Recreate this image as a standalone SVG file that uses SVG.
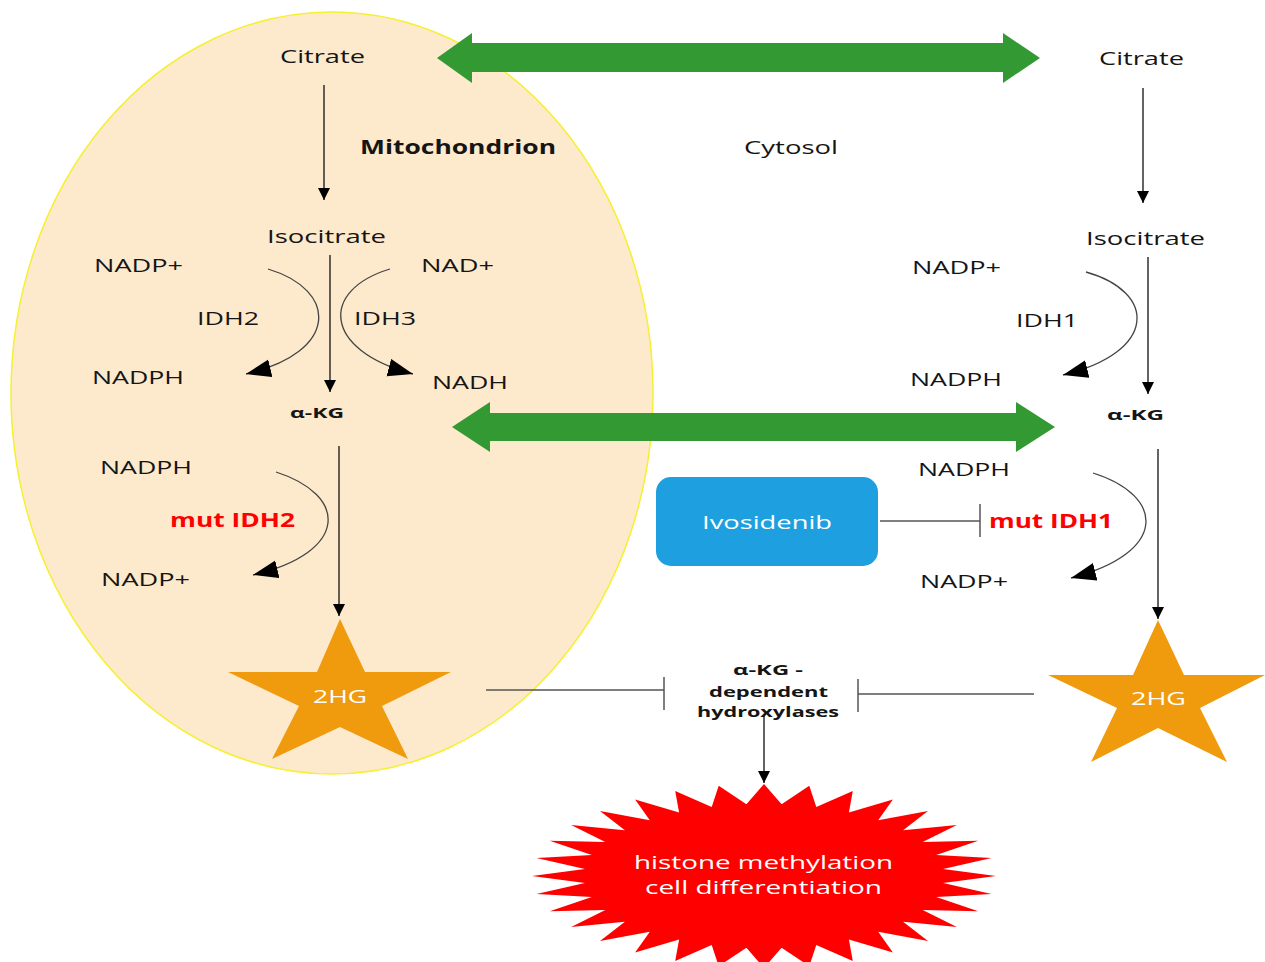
<svg xmlns="http://www.w3.org/2000/svg" width="1265" height="962" viewBox="0 0 1265 962">
<style>
text{font-family:"Open Sans","Liberation Sans",sans-serif;font-size:19px;fill:#151515}
.b{font-weight:bold}
.sm{font-size:15px;font-weight:bold}
.red{fill:#ff0000;font-weight:bold}
.w{fill:#ffffff}
.ln{stroke:#222;stroke-width:1.4;fill:none}
.cv{stroke:#444;stroke-width:1.3;fill:none}
.inh{stroke:#555;stroke-width:1.5;fill:none}
.green{fill:#339933}
.star{fill:#f09a0e}
</style>
<defs>
<marker id="sa" markerUnits="userSpaceOnUse" markerWidth="14" markerHeight="12" refX="12" refY="6" orient="auto"><path d="M0,0 L12,6 L0,12 z" fill="#000"/></marker>
<marker id="la" markerUnits="userSpaceOnUse" markerWidth="26" markerHeight="20" refX="25" refY="9" orient="auto"><path d="M0,0 L25,9 L0,18 z" fill="#000"/></marker>
</defs>
<rect width="1265" height="962" fill="#ffffff"/>
<g id="mitochondrion">
<ellipse cx="332" cy="393" rx="321" ry="381" fill="#fde9cc" stroke="#f5f032" stroke-width="1.5"/>
<text class="b" x="360" y="154" textLength="196" lengthAdjust="spacingAndGlyphs">Mitochondrion</text>
</g>
<g id="cytosol-label"><text x="744" y="154" textLength="94" lengthAdjust="spacingAndGlyphs">Cytosol</text></g>
<g id="connectors">
<path class="green" d="M437,58 L472,33 L472,43 L1003,43 L1003,33 L1040,58 L1003,83 L1003,72 L472,72 L472,83 z"/>
<path class="green" d="M452,427 L490,402 L490,413 L1016,413 L1016,402 L1055,427 L1016,452 L1016,441 L490,441 L490,452 z"/>
<line class="ln" x1="324" y1="85" x2="324" y2="200" marker-end="url(#sa)"/>
<line class="ln" x1="330" y1="255" x2="330" y2="392" marker-end="url(#sa)"/>
<line class="ln" x1="1143" y1="88" x2="1143" y2="203" marker-end="url(#sa)"/>
<line class="ln" x1="1148" y1="257" x2="1148" y2="394" marker-end="url(#sa)"/>
<line class="ln" x1="339" y1="446" x2="339" y2="616" marker-end="url(#sa)"/>
<line class="ln" x1="1158" y1="449" x2="1158" y2="619" marker-end="url(#sa)"/>
<line class="ln" x1="764" y1="715" x2="764" y2="783" marker-end="url(#sa)"/>
<path class="cv" d="M268,269 C338,290 340,352 246,374" marker-end="url(#la)"/>
<path class="cv" d="M390,269 C320,290 322,350 413,374" marker-end="url(#la)"/>
<path class="cv" d="M1086,272 C1157,292 1158,352 1063,375" marker-end="url(#la)"/>
<path class="cv" d="M276,472 C348,495 350,552 253,575" marker-end="url(#la)"/>
<path class="cv" d="M1093,473 C1166,496 1168,553 1071,578" marker-end="url(#la)"/>
<path class="inh" d="M880,521 L980,521 M980,504 L980,537"/>
<path class="inh" d="M486,690 L664,690 M664,677 L664,710"/>
<path class="inh" d="M1034,694 L858,694 M858,679 L858,712"/>
</g>
<g id="citrate-mito"><text x="280" y="63" textLength="85" lengthAdjust="spacingAndGlyphs">Citrate</text></g>
<g id="citrate-cyto"><text x="1099" y="65" textLength="85" lengthAdjust="spacingAndGlyphs">Citrate</text></g>
<g id="isocitrate-mito"><text x="267" y="243" textLength="119" lengthAdjust="spacingAndGlyphs">Isocitrate</text></g>
<g id="isocitrate-cyto"><text x="1086" y="245" textLength="119" lengthAdjust="spacingAndGlyphs">Isocitrate</text></g>
<g id="idh2">
<text x="94" y="272" textLength="89" lengthAdjust="spacingAndGlyphs">NADP+</text>
<text x="197" y="325" textLength="62" lengthAdjust="spacingAndGlyphs">IDH2</text>
<text x="92" y="384" textLength="92" lengthAdjust="spacingAndGlyphs">NADPH</text>
</g>
<g id="idh3">
<text x="421" y="272" textLength="73" lengthAdjust="spacingAndGlyphs">NAD+</text>
<text x="354" y="325" textLength="62" lengthAdjust="spacingAndGlyphs">IDH3</text>
<text x="432" y="389" textLength="76" lengthAdjust="spacingAndGlyphs">NADH</text>
</g>
<g id="akg-mito"><text class="sm" x="290" y="418" textLength="54" lengthAdjust="spacingAndGlyphs">α-KG</text></g>
<g id="mut-idh2">
<text x="100" y="474" textLength="92" lengthAdjust="spacingAndGlyphs">NADPH</text>
<text class="red" x="170" y="527" textLength="125" lengthAdjust="spacingAndGlyphs">mut IDH2</text>
<text x="101" y="586" textLength="89" lengthAdjust="spacingAndGlyphs">NADP+</text>
</g>
<g id="hg2-mito">
<polygon class="star" points="340,619 365,672 451,672 382,706 408,759 340,727 272,759 299,706 228,672 317,672"/>
<text class="w" x="313" y="703" textLength="54" lengthAdjust="spacingAndGlyphs">2HG</text>
</g>
<g id="idh1">
<text x="912" y="274" textLength="89" lengthAdjust="spacingAndGlyphs">NADP+</text>
<text x="1016" y="327" textLength="62" lengthAdjust="spacingAndGlyphs">IDH1</text>
<text x="910" y="386" textLength="92" lengthAdjust="spacingAndGlyphs">NADPH</text>
</g>
<g id="akg-cyto"><text class="sm" x="1107" y="420" textLength="57" lengthAdjust="spacingAndGlyphs">α-KG</text></g>
<g id="mut-idh1">
<text x="918" y="476" textLength="92" lengthAdjust="spacingAndGlyphs">NADPH</text>
<text class="red" x="989" y="528" textLength="124" lengthAdjust="spacingAndGlyphs">mut IDH1</text>
<text x="920" y="588" textLength="88" lengthAdjust="spacingAndGlyphs">NADP+</text>
</g>
<g id="ivosidenib">
<rect x="656" y="477" width="222" height="89" rx="15" fill="#1ea0e0"/>
<text class="w" x="702" y="529" textLength="130" lengthAdjust="spacingAndGlyphs">Ivosidenib</text>
</g>
<g id="hg2-cyto">
<polygon class="star" points="1158,620 1184,675 1265,675 1200,708 1227,762 1158,728 1091,762 1117,708 1048,675 1133,675"/>
<text class="w" x="1131" y="705" textLength="55" lengthAdjust="spacingAndGlyphs">2HG</text>
</g>
<g id="hydroxylases">
<text class="sm" x="733" y="675" textLength="70" lengthAdjust="spacingAndGlyphs">α-KG -</text>
<text class="sm" x="709" y="697" textLength="119" lengthAdjust="spacingAndGlyphs">dependent</text>
<text class="sm" x="697" y="717" textLength="142" lengthAdjust="spacingAndGlyphs">hydroxylases</text>
</g>
<g id="outcome">
<polygon fill="#ff0000" points="996,876 943.1,883.1 991.5,893.9 936.2,896.9 978.3,911.2 922.7,909.9 956.9,927.1 903.1,921.7 928,941.1 878.2,931.7 892.9,952.5 848.9,939.5 852.8,961 816.3,944.9 809.3,966.2 781.6,947.7 764,968 746.4,947.7 718.7,966.2 711.7,944.9 675.2,961 679.1,939.5 635.1,952.5 649.8,931.7 600,941.1 624.9,921.7 571.1,927.1 605.3,909.9 549.7,911.2 591.8,896.9 536.5,893.9 584.9,883.1 532,876 584.9,868.9 536.5,858.1 591.8,855.1 549.7,840.8 605.3,842.1 571.1,824.9 624.9,830.3 600,810.9 649.8,820.3 635.1,799.5 679.1,812.5 675.2,791 711.7,807.1 718.7,785.8 746.4,804.3 764,784 781.6,804.3 809.3,785.8 816.3,807.1 852.8,791 848.9,812.5 892.9,799.5 878.2,820.3 928,810.9 903.1,830.3 956.9,824.9 922.7,842.1 978.3,840.8 936.2,855.1 991.5,858.1 943.1,868.9"/>
<text class="w" x="634" y="869" textLength="259" lengthAdjust="spacingAndGlyphs">histone methylation</text>
<text class="w" x="645" y="894" textLength="237" lengthAdjust="spacingAndGlyphs">cell differentiation</text>
</g>
</svg>
